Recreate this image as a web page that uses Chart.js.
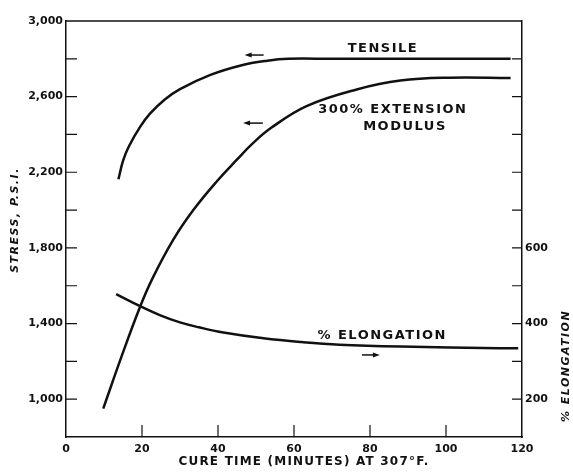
<!DOCTYPE html>
<html>
<head>
<meta charset="utf-8">
<script src="https://cdn.jsdelivr.net/npm/chart.js@4.4.1/dist/chart.umd.min.js"></script>
<style>
  html, body { margin: 0; padding: 0; background: #fff; }
</style>
</head>
<body>
<canvas id="cureChart" width="573" height="474"></canvas>
<script>
// values
const tensileMinutes = [13.8, 15, 16.5, 19.5, 22.1, 26, 30, 38, 46, 53, 58.5, 70, 90, 117];
const tensilePsi = [2163, 2260, 2335, 2440, 2510, 2585, 2640, 2715, 2765, 2790, 2800, 2800, 2800, 2800];

const modulusMinutes = [9.8, 14.6, 19.5, 22.8, 28.2, 33.5, 39.6, 44.9, 49, 54, 63.3, 76.5, 88, 101, 117];
const modulusPsi = [950, 1225, 1489, 1640, 1842, 2000, 2150, 2265, 2350, 2435, 2550, 2638, 2685, 2700, 2698];

const elongationMinutes = [13.2, 19.5, 25, 30, 35, 41, 52, 62, 72, 88, 114, 119];
const elongationPct = [478, 446, 421, 403, 390, 377, 361, 351, 344, 339, 335, 335];

const stressLabels = [1000, 1400, 1800, 2200, 2600, 3000];
const elongationLabels = [200, 400, 600];

// curve labels and arrows, in data units
const notes = [
  { text: 'TENSILE', x: 83.4, y: 2852, axis: 'y' },
  { text: '300% EXTENSION', x: 86, y: 2529, axis: 'y' },
  { text: 'MODULUS', x: 89.2, y: 2439, axis: 'y' },
  { text: '% ELONGATION', x: 83.2, y: 367, axis: 'y1' }
];
const arrows = [
  { from: 52, to: 47, y: 2820, axis: 'y' },
  { from: 51.8, to: 46.6, y: 2460, axis: 'y' },
  { from: 77.9, to: 82.6, y: 317, axis: 'y1' }
];

const ink = '#111';
const FONT = 'DejaVu Sans';
const toPoints = (xs, ys) => xs.map((x, i) => ({ x: x, y: ys[i] }));

function curve(label, xs, ys, axis) {
  return {
    label: label,
    data: toPoints(xs, ys),
    yAxisID: axis,
    showLine: true,
    borderColor: ink,
    borderWidth: 2.5,
    pointRadius: 0,
    fill: false,
    tension: 0.4
  };
}

const paper = {
  id: 'paper',
  afterDraw(chart) {
    const { ctx, chartArea: a, scales } = chart;
    const sx = scales.x, sy = scales.y, sy1 = scales.y1;
    ctx.save();
    ctx.strokeStyle = ink;
    ctx.fillStyle = ink;
    ctx.lineWidth = 1.5;

    // top of the frame
    ctx.beginPath();
    ctx.moveTo(a.left, a.top);
    ctx.lineTo(a.right, a.top);
    ctx.stroke();

    // ticks point inward
    ctx.lineWidth = 1.2;
    ctx.beginPath();
    sy.ticks.forEach(t => {
      if (t.value <= 800 || t.value >= 3000) return;
      const p = sy.getPixelForValue(t.value);
      ctx.moveTo(a.left, p); ctx.lineTo(a.left + 11, p);
    });
    sy1.ticks.forEach(t => {
      if (t.value <= 100 || t.value >= 1200) return;
      const p = sy1.getPixelForValue(t.value);
      ctx.moveTo(a.right, p); ctx.lineTo(a.right - 10, p);
    });
    sx.ticks.forEach(t => {
      if (t.value <= 0 || t.value >= 120) return;
      const p = sx.getPixelForValue(t.value);
      ctx.moveTo(p, a.bottom); ctx.lineTo(p, a.bottom - 12);
    });
    ctx.stroke();

    // curve labels
    ctx.letterSpacing = '1.5px';
    ctx.font = 'bold 13px "' + FONT + '"';
    ctx.textAlign = 'center';
    ctx.textBaseline = 'middle';
    notes.forEach(n => {
      ctx.fillText(n.text, sx.getPixelForValue(n.x), scales[n.axis].getPixelForValue(n.y));
    });

    // arrows
    ctx.lineWidth = 1.5;
    arrows.forEach(ar => {
      const x1 = sx.getPixelForValue(ar.from), x2 = sx.getPixelForValue(ar.to);
      const yy = scales[ar.axis].getPixelForValue(ar.y);
      const dir = x2 > x1 ? 1 : -1;
      ctx.beginPath();
      ctx.moveTo(x1, yy); ctx.lineTo(x2 - dir * 5, yy);
      ctx.stroke();
      ctx.beginPath();
      ctx.moveTo(x2, yy);
      ctx.lineTo(x2 - dir * 7, yy - 2.5);
      ctx.lineTo(x2 - dir * 7, yy + 2.5);
      ctx.closePath();
      ctx.fill();
    });

    // axis titles
    ctx.font = 'bold 12px "' + FONT + '"';
    ctx.letterSpacing = '1.2px';
    ctx.fillText('CURE TIME (MINUTES) AT 307\u00B0F.', (a.left + a.right) / 2 + 10, 462);

    ctx.letterSpacing = '1.5px';
    ctx.font = 'italic bold 11px "' + FONT + '"';
    ctx.save();
    ctx.translate(15, 220);
    ctx.rotate(-Math.PI / 2);
    ctx.fillText('STRESS, P.S.I.', 0, 0);
    ctx.restore();

    ctx.save();
    ctx.translate(566, 366);
    ctx.rotate(-Math.PI / 2);
    ctx.fillText('% ELONGATION', 0, 0);
    ctx.restore();

    ctx.restore();
  }
};

const tickFont = { family: FONT, size: 11, weight: 'bold' };

new Chart(document.getElementById('cureChart'), {
  type: 'scatter',
  data: {
    datasets: [
      curve('Tensile', tensileMinutes, tensilePsi, 'y'),
      curve('300% Extension Modulus', modulusMinutes, modulusPsi, 'y'),
      curve('% Elongation', elongationMinutes, elongationPct, 'y1')
    ]
  },
  options: {
    responsive: false,
    animation: false,
    layout: { padding: { top: 21, left: 0, right: 0, bottom: 0 } },
    plugins: {
      legend: { display: false },
      tooltip: { enabled: false }
    },
    scales: {
      x: {
        type: 'linear',
        min: 0,
        max: 120,
        ticks: { stepSize: 20, color: ink, font: tickFont, padding: 6 },
        grid: { drawOnChartArea: false, drawTicks: false },
        border: { color: ink, width: 1.5 },
        afterFit(s) { s.height = 37; }
      },
      y: {
        position: 'left',
        min: 800,
        max: 3000,
        ticks: {
          stepSize: 200,
          color: ink,
          font: tickFont,
          padding: 3,
          callback: v => stressLabels.includes(v) ? v.toLocaleString('en-US') : ''
        },
        grid: { drawOnChartArea: false, drawTicks: false },
        border: { color: ink, width: 1.5 },
        afterFit(s) { s.width = 66; }
      },
      y1: {
        position: 'right',
        min: 100,
        max: 1200,
        ticks: {
          stepSize: 100,
          color: ink,
          font: tickFont,
          padding: 3,
          callback: v => elongationLabels.includes(v) ? String(v) : ''
        },
        grid: { drawOnChartArea: false, drawTicks: false },
        border: { color: ink, width: 1.5 },
        afterFit(s) { s.width = 51; }
      }
    }
  },
  plugins: [paper]
});
</script>
</body>
</html>
